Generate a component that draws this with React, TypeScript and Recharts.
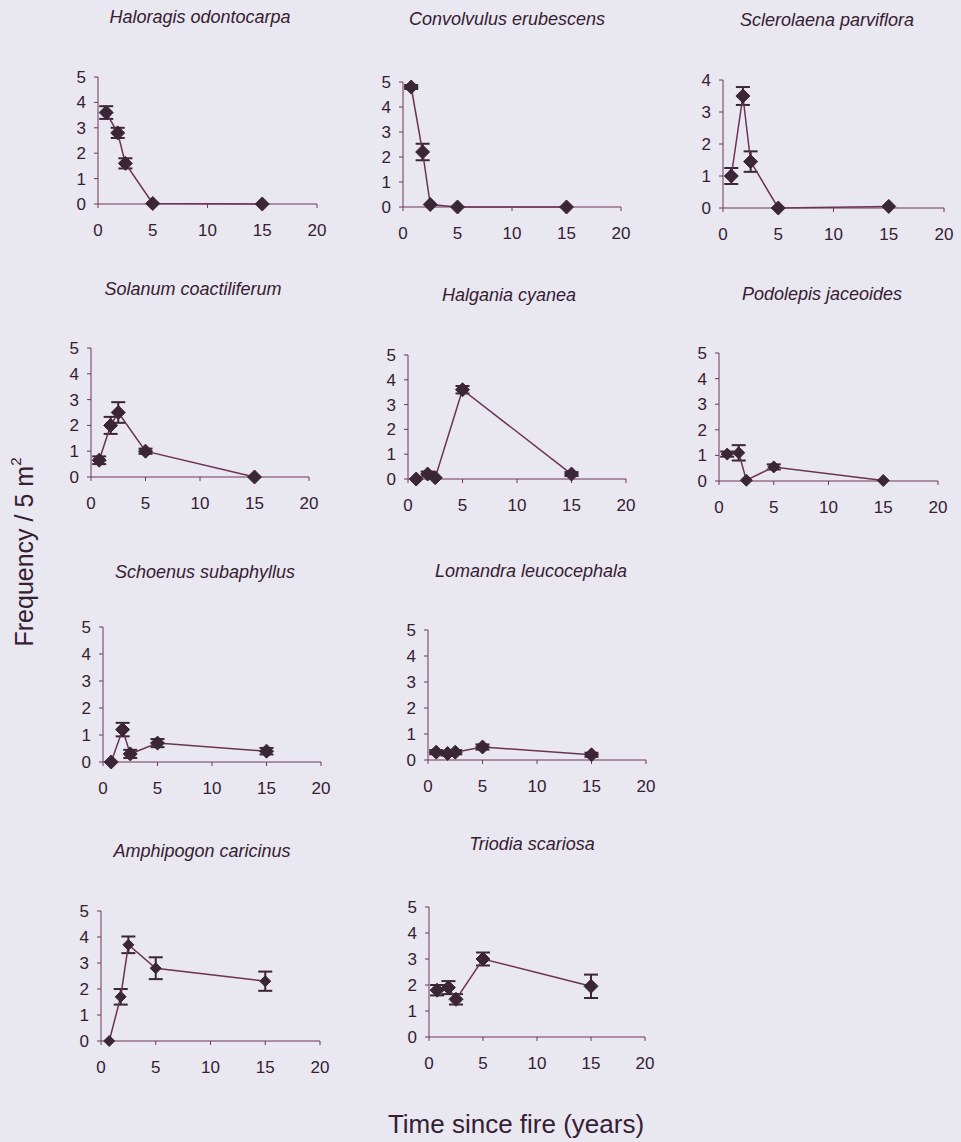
import React from "react";
import { LineChart, Line, XAxis, YAxis, ErrorBar } from "recharts";

// ---- data ----
const years = [0.75, 1.8, 2.5, 5, 15];
const xTicks = [0, 5, 10, 15, 20];
const yTicks5 = [0, 1, 2, 3, 4, 5];
const yTicks4 = [0, 1, 2, 3, 4];

const haloragisMean = [3.6, 2.8, 1.6, 0.02, 0];
const haloragisErr = [0.25, 0.2, 0.2, 0, 0];
const convolvulusMean = [4.8, 2.2, 0.1, 0, 0];
const convolvulusErr = [0.08, 0.33, 0, 0, 0];
const sclerolaenaMean = [1.0, 3.5, 1.45, 0, 0.05];
const sclerolaenaErr = [0.25, 0.28, 0.32, 0, 0];
const solanumMean = [0.65, 2.0, 2.5, 1.0, 0];
const solanumErr = [0.15, 0.33, 0.4, 0.1, 0];
const halganiaMean = [0, 0.2, 0.05, 3.6, 0.2];
const halganiaErr = [0, 0.1, 0, 0.15, 0.08];
const podolepisMean = [1.05, 1.1, 0.03, 0.55, 0.02];
const podolepisErr = [0.1, 0.3, 0, 0.1, 0];
const schoenusMean = [0, 1.2, 0.3, 0.7, 0.4];
const schoenusErr = [0, 0.25, 0.15, 0.15, 0.12];
const lomandraMean = [0.3, 0.25, 0.3, 0.5, 0.2];
const lomandraErr = [0.08, 0.08, 0.08, 0.1, 0.08];
const amphipogonMean = [0, 1.7, 3.7, 2.8, 2.3];
const amphipogonErr = [0, 0.3, 0.32, 0.42, 0.37];
const triodiaMean = [1.8, 1.9, 1.45, 3.0, 1.95];
const triodiaErr = [0.2, 0.25, 0.2, 0.25, 0.45];

const speciesNames = [
  "Haloragis odontocarpa",
  "Convolvulus erubescens",
  "Sclerolaena parviflora",
  "Solanum coactiliferum",
  "Halgania cyanea",
  "Podolepis jaceoides",
  "Schoenus subaphyllus",
  "Lomandra leucocephala",
  "Amphipogon caricinus",
  "Triodia scariosa",
];
const speciesMeans = [
  haloragisMean, convolvulusMean, sclerolaenaMean, solanumMean, halganiaMean,
  podolepisMean, schoenusMean, lomandraMean, amphipogonMean, triodiaMean,
];
const speciesErrs = [
  haloragisErr, convolvulusErr, sclerolaenaErr, solanumErr, halganiaErr,
  podolepisErr, schoenusErr, lomandraErr, amphipogonErr, triodiaErr,
];

// ---- layout (plot area: left, right, top, bottom; title centre) ----
const layout = [
  { L: 98, R: 317, T: 77, B: 204, tx: 200, ty: 17, yMax: 5, ms: 7 },
  { L: 403, R: 621, T: 82, B: 207, tx: 507, ty: 19, yMax: 5, ms: 7 },
  { L: 723, R: 944, T: 80, B: 208, tx: 827, ty: 20, yMax: 4, ms: 7 },
  { L: 91, R: 309, T: 348, B: 477, tx: 193, ty: 289, yMax: 5, ms: 7 },
  { L: 408, R: 626, T: 355, B: 479, tx: 509, ty: 295, yMax: 5, ms: 7 },
  { L: 719, R: 938, T: 353, B: 481, tx: 822, ty: 294, yMax: 5, ms: 6 },
  { L: 103, R: 321, T: 627, B: 762, tx: 205, ty: 572, yMax: 5, ms: 7 },
  { L: 428, R: 646, T: 630, B: 760, tx: 531, ty: 571, yMax: 5, ms: 7 },
  { L: 101, R: 320, T: 911, B: 1041, tx: 202, ty: 851, yMax: 5, ms: 5.5 },
  { L: 429, R: 645, T: 907, B: 1037, tx: 532, ty: 844, yMax: 5, ms: 7 },
];

const BG = "#e9e7ef";
const AXIS = "#6f3658";
const TEXT = "#352033";
const LINE = "#6a3352";
const MARK = "#3a2634";

const FONT = "'Liberation Sans', Arial, sans-serif";

function makeDiamond(size: number) {
  return (p: any) => {
    const { cx, cy, index } = p;
    if (cx == null || cy == null) return <g key={`d-${index}`} />;
    const d = `M${cx},${cy - size} L${cx + size},${cy} L${cx},${cy + size} L${cx - size},${cy} Z`;
    return <path key={`d-${index}`} d={d} fill={MARK} stroke={MARK} strokeWidth={1} />;
  };
}

function Panel({ i }: { i: number }) {
  const g = layout[i];
  const padL = 50, padT = 12, padR = 20, padB = 40;
  const w = g.R - g.L + padL + padR;
  const h = g.B - g.T + padT + padB;
  const data = years.map((x, k) => ({ x, y: speciesMeans[i][k], err: speciesErrs[i][k] }));
  const tickStyle = { fill: TEXT, fontSize: 17, fontFamily: FONT };
  return (
    <>
      <div
        style={{
          position: "absolute",
          left: g.tx - 150,
          top: g.ty - 11,
          width: 300,
          textAlign: "center",
          fontFamily: FONT,
          fontStyle: "italic",
          fontSize: 18,
          lineHeight: "22px",
          color: TEXT,
        }}
      >
        {speciesNames[i]}
      </div>
      <div style={{ position: "absolute", left: g.L - padL, top: g.T - padT }}>
        <LineChart width={w} height={h} data={data} margin={{ top: padT, right: padR, bottom: 0, left: 0 }}>
          <XAxis
            type="number"
            dataKey="x"
            domain={[0, 20]}
            ticks={xTicks}
            height={padB}
            tickSize={4}
            tickMargin={16}
            stroke={AXIS}
            tick={tickStyle}
            fontSize={17}
            fontFamily={FONT}
            interval={0}
          />
          <YAxis
            type="number"
            domain={[0, g.yMax]}
            ticks={g.yMax === 4 ? yTicks4 : yTicks5}
            width={padL}
            tickSize={4}
            tickMargin={8}
            stroke={AXIS}
            tick={tickStyle}
            fontSize={17}
            fontFamily={FONT}
            interval={0}
          />
          <Line
            type="linear"
            dataKey="y"
            stroke={LINE}
            strokeWidth={1.5}
            dot={makeDiamond(g.ms)}
            activeDot={false}
            isAnimationActive={false}
          >
            <ErrorBar dataKey="err" direction="y" width={7} stroke={MARK} strokeWidth={2} />
          </Line>
        </LineChart>
      </div>
    </>
  );
}

export default function App() {
  return (
    <div
      style={{
        position: "absolute",
        left: 0,
        top: 0,
        width: 961,
        height: 1142,
        background: BG,
        overflow: "hidden",
      }}
    >
      {speciesNames.map((_, i) => (
        <Panel key={i} i={i} />
      ))}
      <div
        style={{
          position: "absolute",
          left: 24 - 150,
          top: 552 - 15,
          width: 300,
          height: 30,
          lineHeight: "30px",
          textAlign: "center",
          transform: "rotate(-90deg)",
          fontFamily: FONT,
          fontSize: 25,
          color: TEXT,
        }}
      >
        Frequency / 5 m<sup style={{ fontSize: 15, verticalAlign: "top", lineHeight: "14px" }}>2</sup>
      </div>
      <div
        style={{
          position: "absolute",
          left: 516 - 200,
          top: 1124 - 15,
          width: 400,
          height: 30,
          lineHeight: "30px",
          textAlign: "center",
          fontFamily: FONT,
          fontSize: 26,
          color: TEXT,
        }}
      >
        Time since fire (years)
      </div>
    </div>
  );
}
